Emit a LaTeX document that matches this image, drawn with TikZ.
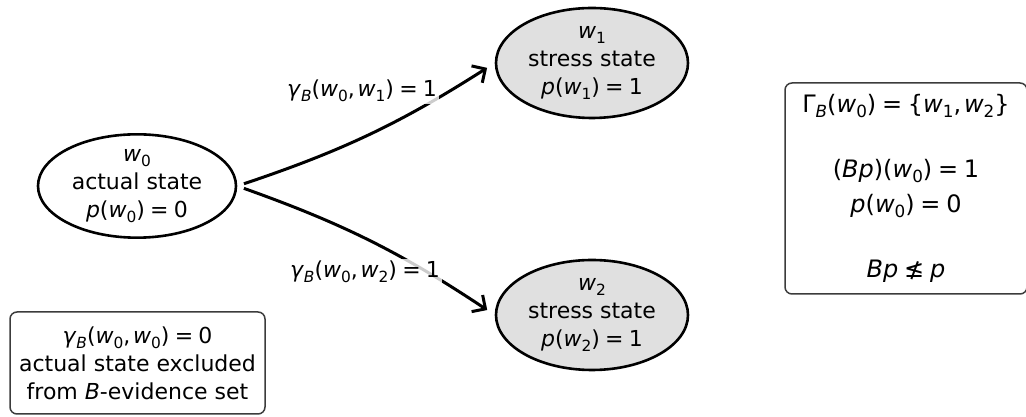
\documentclass[tikz,border=0pt]{standalone}
\usepackage{fontspec}
\setmainfont{DejaVu Sans}
\usetikzlibrary{shapes.geometric,arrows.meta}
\definecolor{stressfill}{RGB}{224,224,224}
\definecolor{boxedge}{RGB}{60,60,60}
\newcommand{\mi}[1]{\textit{#1}}
\newcommand{\msb}[1]{\raisebox{-0.22em}{\fontsize{0.7em}{0.7em}\selectfont #1}}
\newcommand{\eqs}{\hspace{0.24em}=\hspace{0.24em}}
\newcommand{\cma}{,\hspace{0.12em}}
\begin{document}
\begin{tikzpicture}[x=1pt,y=1pt, font=\fontsize{22}{28}\selectfont,
  state/.style={ellipse, draw=black, line width=2.6pt, minimum width=198pt, minimum height=103pt, align=center, inner sep=0pt},
  stress/.style={state, fill=stressfill, minimum width=192pt, minimum height=110pt},
  infobox/.style={draw=boxedge, line width=1.5pt, rounded corners=7pt, align=center, fill=white, inner sep=0pt},
  edgelabel/.style={fill=white, fill opacity=0.8, text opacity=1, inner sep=2pt},
  link/.style={line width=3pt, -{Straight Barb[length=10pt,width=20pt,line width=3pt]}}]
\useasboundingbox (0,0) rectangle (1026,417);

\node[state] (w0) at (137,231) {\mi{w}\msb{0}\\actual state\\\mi{p}(\mi{w}\msb{0})\eqs 0};
\node[stress] (w1) at (592,354) {\mi{w}\msb{1}\\stress state\\\mi{p}(\mi{w}\msb{1})\eqs 1};
\node[stress] (w2) at (592,102) {\mi{w}\msb{2}\\stress state\\\mi{p}(\mi{w}\msb{2})\eqs 1};

\draw[link, shorten <=7pt, shorten >=9pt] (w0.east) to[bend right=7] (w1.west);
\draw[link, shorten <=7pt, shorten >=9pt] (w0.east) to[bend left=7] (w2.west);

\node[edgelabel] (l1) at (362,326) {\mi{γ}\msb{\mi{B}}(\mi{w}\msb{0}\cma\mi{w}\msb{1})\eqs 1};
\node[edgelabel] (l2) at (365,145) {\mi{γ}\msb{\mi{B}}(\mi{w}\msb{0}\cma\mi{w}\msb{2})\eqs 1};

\node[infobox, minimum width=242pt, minimum height=211pt, font=\fontsize{24}{35}\selectfont] (res) at (906,228.5)
  {Γ\msb{\mi{B}}(\mi{w}\msb{0})\eqs\{\mi{w}\msb{1}\cma\mi{w}\msb{2}\}\\[30pt](\mi{B}\mi{p})(\mi{w}\msb{0})\eqs 1\\\mi{p}(\mi{w}\msb{0})\eqs 0\\[30pt]\mi{B}\mi{p}\hspace{0.24em}≰\hspace{0.24em}\mi{p}};

\node[infobox, minimum width=255pt, minimum height=102pt] (note) at (137.5,54)
  {\mi{γ}\msb{\mi{B}}(\mi{w}\msb{0}\cma\mi{w}\msb{0})\eqs 0\\actual state excluded\\from \mi{B}-evidence set};
\end{tikzpicture}
\end{document}
